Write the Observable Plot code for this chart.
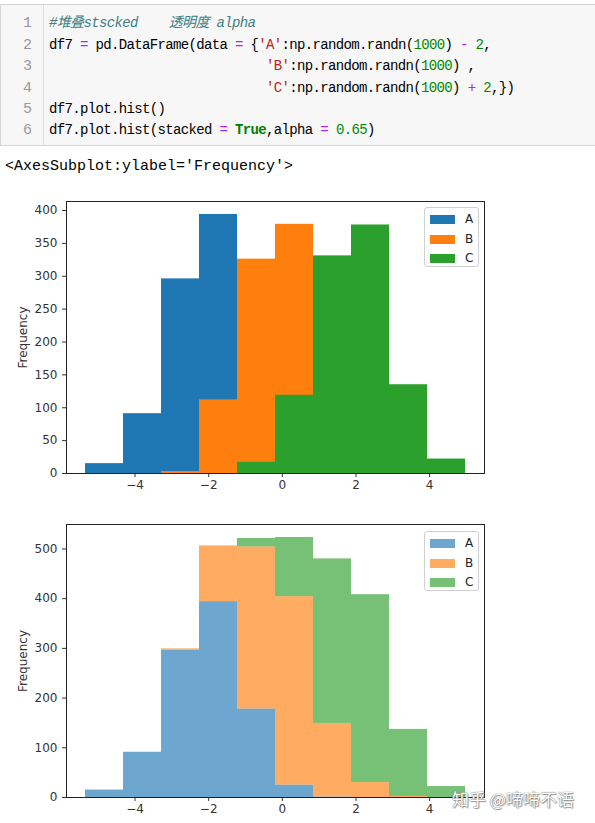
<!DOCTYPE html>
<html>
<head>
<meta charset="utf-8">
<script src="https://cdn.jsdelivr.net/npm/d3@7"></script>
<script src="https://cdn.jsdelivr.net/npm/@observablehq/plot@0.6"></script>
<style>
  html, body { margin: 0; padding: 0; background: #fff; }
  #page { position: relative; width: 595px; height: 823px; overflow: hidden; background: #fff; }
  .cell { position: absolute; left: 0; top: 4px; width: 640px; height: 142px; background: #f7f7f7; border: 1px solid #d4d4d4; box-sizing: border-box; }
  .gutter { position: absolute; left: 0; top: 0; width: 43px; height: 100%; border-right: 1px solid #dddddd; box-sizing: border-box; }
  .ln { position: absolute; left: 12px; width: 20px; text-align: right; color: #999; font: 15px "Liberation Mono", "Noto Sans CJK SC", monospace; line-height: 21.4px; }
  .code { position: absolute; left: 49px; font: 14px "Liberation Mono", "Noto Sans CJK SC", monospace; letter-spacing: -0.65px; line-height: 21.4px; white-space: pre; color: #000; }
  .cm { color: #408080; font-style: italic; }
  .op { color: #AA22FF; }
  .nu { color: #008800; }
  .st { color: #BA2121; }
  .kw { color: #008000; font-weight: bold; }
  .out { position: absolute; left: 5px; top: 156px; font: 15px "Liberation Mono", "Noto Sans CJK SC", monospace; line-height: 21px; white-space: pre; color: #000; }
  .chart { position: absolute; left: 0; }
  .legend { position: absolute; background: rgba(255,255,255,0.85); border: 1px solid #d0d0d0; border-radius: 3px; box-sizing: border-box; }
  .lg-row { position: absolute; left: 0; height: 16px; }
  .lg-key { position: absolute; left: 5px; top: 4px; width: 25px; height: 9px; }
  .lg-lab { position: absolute; left: 40px; top: 0; font: 12px "DejaVu Sans", sans-serif; color: #222; line-height: 16px; }
  .wm { position: absolute; left: 452px; top: 786px; font: 17px "Noto Sans CJK SC", sans-serif; color: #ffffff; white-space: pre;
        text-shadow: 0 0 1px #777, 0 0 1px #777, 1px 1px 1px #999; }
</style>
</head>
<body>
<div id="page">
  <div class="cell">
    <div class="gutter"></div>
  </div>
  <div id="codelines"></div>
  <div class="out">&lt;AxesSubplot:ylabel='Frequency'&gt;</div>
  <div id="chart1" class="chart" style="top:190px"></div>
  <div id="chart2" class="chart" style="top:513px"></div>
  <div class="wm">知乎 @啼啼不语</div>
</div>
<script>
// ---- Data ----
const seriesNames = ["A", "B", "C"];
const binEdges = [-5.346, -4.314, -3.282, -2.250, -1.218, -0.186, 0.846, 1.878, 2.910, 3.942, 4.974];
const countsA = [15, 91, 296, 394, 178, 25, 1, 0, 0, 0];
const countsB = [0, 0, 3, 112, 326, 379, 148, 30, 2, 0];
const countsC = [0, 0, 0, 0, 17, 119, 331, 378, 135, 22];
const xTicks = [-4, -2, 0, 2, 4];
const yTicksTop = [0, 50, 100, 150, 200, 250, 300, 350, 400];
const yTicksBottom = [0, 100, 200, 300, 400, 500];
const colors = ["#1f77b4", "#ff7f0e", "#2ca02c"];

// ---- Code cell text ----
const codeLines = [
  '<span class="cm">#堆叠stscked    透明度 alpha</span>',
  'df7 <span class="op">=</span> pd.DataFrame(data <span class="op">=</span> {<span class="st">\'A\'</span>:np.random.randn(<span class="nu">1000</span>) <span class="op">-</span> <span class="nu">2</span>,',
  '                            <span class="st">\'B\'</span>:np.random.randn(<span class="nu">1000</span>) ,',
  '                            <span class="st">\'C\'</span>:np.random.randn(<span class="nu">1000</span>) <span class="op">+</span> <span class="nu">2</span>,})',
  'df7.plot.hist()',
  'df7.plot.hist(stacked <span class="op">=</span> <span class="kw">True</span>,alpha <span class="op">=</span> <span class="nu">0.65</span>)'
];
const holder = document.getElementById("codelines");
codeLines.forEach((html, i) => {
  const top = 13.3 + i * 21.4;
  const ln = document.createElement("div");
  ln.className = "ln"; ln.style.top = top + "px"; ln.textContent = String(i + 1);
  holder.appendChild(ln);
  const c = document.createElement("div");
  c.className = "code"; c.style.top = top + "px"; c.innerHTML = html;
  holder.appendChild(c);
});

// ---- Build tables ----
const allCounts = [countsA, countsB, countsC];
const rows = [];
seriesNames.forEach((s, si) => {
  allCounts[si].forEach((v, i) => rows.push({series: s, x1: binEdges[i], x2: binEdges[i + 1], count: v}));
});
// stacked
const stackedRows = [];
const cum = binEdges.slice(0, -1).map(() => 0);
seriesNames.forEach((s, si) => {
  allCounts[si].forEach((v, i) => {
    stackedRows.push({series: s, x1: binEdges[i], x2: binEdges[i + 1], y1: cum[i], y2: cum[i] + v});
    cum[i] += v;
  });
});

const span = binEdges[binEdges.length - 1] - binEdges[0];
const xDomain = [binEdges[0] - 0.05 * span, binEdges[binEdges.length - 1] + 0.05 * span];
const maxTop = d3.max(rows, d => d.count) * 1.05;
const maxBottom = d3.max(cum) * 1.05;
const fmt = d3.format("d");

function makeChart(marks, yMax, yTicks, marginBottom) {
  return Plot.plot({
    width: 595,
    height: 310,
    marginLeft: 66,
    marginRight: 111,
    marginTop: 11,
    marginBottom: marginBottom,
    style: {fontFamily: "DejaVu Sans, sans-serif", fontSize: "12px", color: "#333", background: "transparent"},
    x: {domain: xDomain, ticks: xTicks, tickFormat: fmt, tickSize: 4, tickPadding: 3, label: null},
    y: {domain: [0, yMax], ticks: yTicks, tickFormat: fmt, tickSize: 4, tickPadding: 5,
        label: "Frequency", labelAnchor: "center", labelOffset: 48, labelArrow: "none"},
    color: {domain: seriesNames, range: colors},
    marks: [...marks, Plot.frame({stroke: "#222", strokeWidth: 1})]
  });
}

const chart1 = makeChart([
  Plot.rect(rows, {x1: "x1", x2: "x2", y1: 0, y2: "count", fill: "series"})
], maxTop, yTicksTop, 27);
document.getElementById("chart1").appendChild(chart1);

const chart2 = makeChart([
  Plot.rect(stackedRows, {x1: "x1", x2: "x2", y1: "y1", y2: "y2", fill: "series", fillOpacity: 0.65})
], maxBottom, yTicksBottom, 26);
document.getElementById("chart2").appendChild(chart2);

// ---- Legends ----
function addLegend(left, top, opacity) {
  const box = document.createElement("div");
  box.className = "legend";
  box.style.left = left + "px"; box.style.top = top + "px";
  box.style.width = "55px"; box.style.height = "60px";
  seriesNames.forEach((s, i) => {
    const row = document.createElement("div");
    row.className = "lg-row"; row.style.top = (3 + i * 19.5) + "px";
    const key = document.createElement("div");
    key.className = "lg-key"; key.style.background = colors[i]; key.style.opacity = opacity;
    const lab = document.createElement("div");
    lab.className = "lg-lab"; lab.textContent = s;
    row.appendChild(key); row.appendChild(lab);
    box.appendChild(row);
  });
  document.getElementById("page").appendChild(box);
}
addLegend(424, 207, 1);
addLegend(424, 531, 0.65);
</script>
</body>
</html>
